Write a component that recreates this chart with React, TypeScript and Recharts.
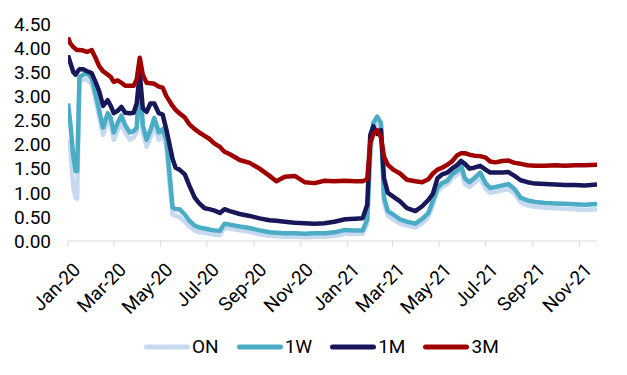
import React from 'react';
import { LineChart, Line, XAxis, YAxis, Legend } from 'recharts';

const dates = [
  '2020-01-01', '2020-01-04', '2020-01-08', '2020-01-11', '2020-01-13', '2020-01-16', '2020-01-21', '2020-01-26',
  '2020-02-01', '2020-02-06', '2020-02-11', '2020-02-16', '2020-02-22', '2020-02-26', '2020-03-01', '2020-03-06',
  '2020-03-11', '2020-03-16', '2020-03-22', '2020-03-27', '2020-03-31', '2020-04-04', '2020-04-08', '2020-04-13',
  '2020-04-18', '2020-04-23', '2020-04-29', '2020-05-04', '2020-05-09', '2020-05-13', '2020-05-17', '2020-05-21',
  '2020-05-26', '2020-06-02', '2020-06-08', '2020-06-15', '2020-06-21', '2020-06-28', '2020-07-04', '2020-07-11',
  '2020-07-18', '2020-07-24', '2020-07-31', '2020-08-13', '2020-08-26', '2020-09-08', '2020-09-21', '2020-09-30',
  '2020-10-11', '2020-10-24', '2020-11-06', '2020-11-19', '2020-12-02', '2020-12-15', '2020-12-29', '2021-01-11',
  '2021-01-21', '2021-01-27', '2021-01-31', '2021-02-04', '2021-02-09', '2021-02-14', '2021-02-18', '2021-02-23',
  '2021-03-02', '2021-03-11', '2021-03-20', '2021-03-31', '2021-04-09', '2021-04-17', '2021-04-23', '2021-04-29',
  '2021-05-05', '2021-05-12', '2021-05-18', '2021-05-25', '2021-05-30', '2021-06-04', '2021-06-10', '2021-06-16',
  '2021-06-24', '2021-07-01', '2021-07-07', '2021-07-14', '2021-07-23', '2021-07-31', '2021-08-08', '2021-08-16',
  '2021-08-25', '2021-09-04', '2021-09-17', '2021-09-30', '2021-10-13', '2021-10-26', '2021-11-08', '2021-11-24',
];

const onRate = [
  2.10, 1.90, 1.10, 0.90, 0.88, 3.30, 3.35, 3.35,
  3.25, 2.95, 2.55, 2.20, 2.50, 2.40, 2.10, 2.30,
  2.45, 2.25, 2.10, 2.15, 2.25, 3.30, 2.25, 1.95,
  2.15, 2.40, 2.10, 2.20, 1.95, 1.20, 0.55, 0.52,
  0.50, 0.40, 0.30, 0.22, 0.18, 0.17, 0.15, 0.13,
  0.12, 0.28, 0.26, 0.22, 0.19, 0.14, 0.11, 0.10,
  0.09, 0.09, 0.08, 0.09, 0.09, 0.11, 0.15, 0.15,
  0.15, 0.35, 1.80, 2.35, 2.45, 2.35, 0.80, 0.52,
  0.45, 0.36, 0.32, 0.28, 0.37, 0.50, 0.75, 1.02,
  1.12, 1.18, 1.30, 1.38, 1.46, 1.18, 1.12, 1.20,
  1.30, 1.08, 1.00, 1.02, 1.05, 1.08, 0.98, 0.80,
  0.74, 0.71, 0.69, 0.68, 0.67, 0.66, 0.65, 0.66,
];

const w1Rate = [
  2.85, 2.45, 1.75, 1.45, 1.45, 3.40, 3.45, 3.48,
  3.38, 3.05, 2.70, 2.35, 2.65, 2.55, 2.25, 2.45,
  2.60, 2.40, 2.25, 2.28, 2.35, 3.40, 2.40, 2.10,
  2.30, 2.55, 2.25, 2.32, 2.10, 1.40, 0.70, 0.66,
  0.66, 0.55, 0.42, 0.32, 0.28, 0.26, 0.24, 0.22,
  0.21, 0.36, 0.34, 0.30, 0.27, 0.22, 0.18, 0.17,
  0.16, 0.16, 0.15, 0.16, 0.16, 0.18, 0.23, 0.22,
  0.22, 0.45, 1.90, 2.45, 2.58, 2.45, 0.90, 0.62,
  0.55, 0.45, 0.40, 0.36, 0.46, 0.58, 0.83, 1.10,
  1.20, 1.25, 1.38, 1.46, 1.56, 1.30, 1.22, 1.30,
  1.42, 1.20, 1.10, 1.12, 1.15, 1.18, 1.08, 0.90,
  0.84, 0.81, 0.79, 0.78, 0.77, 0.76, 0.75, 0.77,
];

const m1Rate = [
  3.85, 3.70, 3.50, 3.45, 3.50, 3.56, 3.56, 3.52,
  3.48, 3.30, 3.10, 2.80, 2.92, 2.80, 2.65, 2.70,
  2.78, 2.66, 2.65, 2.66, 2.85, 3.48, 2.75, 2.68,
  2.85, 2.85, 2.65, 2.62, 2.30, 2.00, 1.70, 1.52,
  1.48, 1.38, 1.15, 0.90, 0.78, 0.68, 0.66, 0.63,
  0.58, 0.66, 0.62, 0.56, 0.52, 0.47, 0.43, 0.42,
  0.40, 0.38, 0.37, 0.36, 0.37, 0.40, 0.45, 0.46,
  0.47, 0.75, 2.20, 2.38, 2.22, 2.30, 1.30, 1.00,
  0.92, 0.82, 0.68, 0.62, 0.72, 0.85, 0.98, 1.30,
  1.38, 1.42, 1.50, 1.58, 1.66, 1.60, 1.50, 1.52,
  1.56, 1.48, 1.42, 1.42, 1.42, 1.43, 1.35, 1.26,
  1.22, 1.19, 1.18, 1.17, 1.16, 1.16, 1.15, 1.17,
];

const m3Rate = [
  4.22, 4.10, 4.02, 3.98, 3.96, 3.96, 3.95, 3.92,
  3.96, 3.80, 3.62, 3.52, 3.45, 3.40, 3.30, 3.33,
  3.28, 3.22, 3.22, 3.22, 3.35, 3.80, 3.45, 3.28,
  3.27, 3.26, 3.20, 3.18, 3.00, 2.90, 2.80, 2.72,
  2.65, 2.56, 2.42, 2.32, 2.25, 2.18, 2.12, 2.02,
  1.95, 1.85, 1.80, 1.68, 1.62, 1.50, 1.35, 1.24,
  1.33, 1.35, 1.22, 1.20, 1.25, 1.24, 1.25, 1.24,
  1.24, 1.28, 2.05, 2.22, 2.30, 2.15, 1.75, 1.58,
  1.48, 1.40, 1.27, 1.24, 1.22, 1.28, 1.40, 1.48,
  1.52, 1.58, 1.65, 1.78, 1.82, 1.82, 1.79, 1.77,
  1.76, 1.73, 1.65, 1.63, 1.66, 1.67, 1.62, 1.60,
  1.57, 1.56, 1.56, 1.57, 1.56, 1.57, 1.57, 1.58,
];

const seriesNames = ['ON', '1W', '1M', '3M'];
const seriesColors = ['#c6d9f0', '#4bacc6', '#17175a', '#a00000'];

const yTicks = [0, 0.5, 1, 1.5, 2, 2.5, 3, 3.5, 4, 4.5];
const xTickDates = [
  '2020-01-01', '2020-03-01', '2020-05-01', '2020-07-01', '2020-09-01', '2020-11-01',
  '2021-01-01', '2021-03-01', '2021-05-01', '2021-07-01', '2021-09-01', '2021-11-01',
];
const monthNames = ['Jan', 'Feb', 'Mar', 'Apr', 'May', 'Jun', 'Jul', 'Aug', 'Sep', 'Oct', 'Nov', 'Dec'];
const domainStart = '2020-01-01';
const domainEnd = '2021-11-24';

const toTs = (s: string) => Date.parse(s + 'T00:00:00Z');

const data = dates.map((d, i) => ({
  t: toTs(d),
  ON: onRate[i],
  '1W': w1Rate[i],
  '1M': m1Rate[i],
  '3M': m3Rate[i],
}));

const FONT = 'Roboto, "Noto Sans", sans-serif';

const XTick = (props: any) => {
  const { x, y, payload } = props;
  const d = new Date(payload.value);
  const label = monthNames[d.getUTCMonth()] + '-' + String(d.getUTCFullYear()).slice(2);
  const ax = x + 13.5;
  const ay = y + 22;
  return (
    <text
      x={ax}
      y={ay}
      transform={`rotate(-45, ${ax}, ${ay})`}
      textAnchor="end"
      fontFamily={FONT}
      fontSize={19}
      fill="#000"
    >
      {label}
    </text>
  );
};

const LegendContent = () => (
  <div
    style={{
      display: 'flex',
      alignItems: 'center',
      height: 22,
      marginLeft: 144,
      fontFamily: FONT,
      fontSize: 19,
      color: '#000',
      lineHeight: '22px',
    }}
  >
    {seriesNames.map((n, i) => (
      <div key={n} style={{ display: 'flex', alignItems: 'center', marginRight: 18 }}>
        <svg width={46} height={10} style={{ display: 'block' }}>
          <line x1={2.5} y1={5} x2={43.5} y2={5} stroke={seriesColors[i]} strokeWidth={5} strokeLinecap="round" />
        </svg>
        <span style={{ marginLeft: 2 }}>{n}</span>
      </div>
    ))}
  </div>
);

export default function App() {
  return (
    <div style={{ position: 'absolute', left: 0, top: 0, width: 627, height: 375, background: '#fff' }}>
      <LineChart
        width={627}
        height={375}
        data={data}
        margin={{ top: 24, right: 30, bottom: 0, left: 0 }}
      >
        <XAxis
          dataKey="t"
          type="number"
          domain={[toTs(domainStart), toTs(domainEnd)]}
          ticks={xTickDates.map(toTs)}
          interval={0}
          tick={<XTick />}
          height={134}
          stroke="#d9d9d9"
          tickSize={6}
          allowDataOverflow
        />
        <YAxis
          width={68}
          domain={[0, 4.5]}
          ticks={yTicks}
          interval={0}
          tickFormatter={(v: number) => v.toFixed(2)}
          axisLine={false}
          tickLine={false}
          tickMargin={11}
          tick={{ fill: '#000', fontSize: 19, fontFamily: FONT }}
        />
        <Legend
          layout="horizontal"
          verticalAlign="middle"
          align="center"
          wrapperStyle={{ top: 336, left: 0, width: 627, height: 22 }}
          content={<LegendContent />}
        />
        {seriesNames.map((n, i) => (
          <Line
            key={n}
            dataKey={n}
            stroke={seriesColors[i]}
            strokeWidth={4.5}
            strokeLinejoin="round"
            dot={false}
            activeDot={false}
            isAnimationActive={false}
          />
        ))}
      </LineChart>
    </div>
  );
}
